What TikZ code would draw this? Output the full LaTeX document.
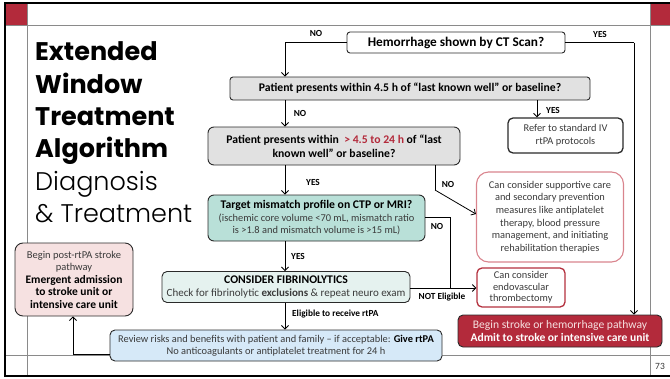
\documentclass[tikz,border=0pt]{standalone}
\usepackage{fontspec}
\setmainfont{Carlito}
\newfontfamily\titlefont{Poppins}
\newfontfamily\titlelightfont{Poppins Light}
\usetikzlibrary{arrows.meta,calc}

\definecolor{accentred}{HTML}{B32A3B}
\definecolor{framegray}{HTML}{8A8A8A}
\definecolor{qgray}{HTML}{E1E1E1}
\definecolor{tealfill}{HTML}{B9E0D8}
\definecolor{lighttealfill}{HTML}{E5F2EF}
\definecolor{bluefill}{HTML}{D6E9F8}
\definecolor{pinkfill}{HTML}{F6E1E1}
\definecolor{pinkborder}{HTML}{D9848D}
\definecolor{darkred}{HTML}{B3303D}
\definecolor{bodytext}{HTML}{3A3A3A}
\definecolor{edgegray}{HTML}{2A2A2A}

\newcommand{\bodyline}[1]{{\mdseries\color{bodytext}#1}}
\newcommand{\strongline}[1]{{\bfseries\color{black}#1}}

\tikzset{
  flowbox/.style={draw=edgegray, line width=0.9pt, rounded corners=4pt, align=center,
    inner sep=0pt, font=\fontsize{11.7}{13.5}\selectfont\bfseries, text=black},
  question/.style={flowbox, fill=qgray},
  notebox/.style={flowbox, font=\fontsize{10.4}{12.6}\selectfont, text=bodytext},
  arr/.style={line width=0.8pt, -{Straight Barb[length=3.5pt,width=7pt]}},
  conn/.style={line width=0.8pt},
  lbl/.style={font=\fontsize{9.3}{10}\selectfont\bfseries, text=black, inner sep=0pt},
  titlebold/.style={font=\titlefont\fontsize{25.5}{25}\selectfont\bfseries, anchor=base west, inner sep=0pt},
  titlelight/.style={font=\titlelightfont\fontsize{25.5}{25}\selectfont, anchor=base west, inner sep=0pt},
}

\begin{document}
\begin{tikzpicture}[x=1pt,y=-1pt]
\useasboundingbox (0,0) rectangle (670,378);

% slide frame
\fill[accentred] (5,3) rectangle (27,25);
\fill[accentred] (650,3) rectangle (670,25);
\draw[framegray, line width=0.7pt] (5,25) -- (670,25);
\draw[framegray, line width=0.7pt] (5,355) -- (670,355);
\draw[framegray, line width=0.7pt] (27,3) -- (27,376);
\draw[framegray, line width=0.7pt] (650,3) -- (650,376);
\draw[line width=2pt] (671,3) -- (5,3) -- (5,376) -- (671,376);
\node[font=\fontsize{9.5}{10}\selectfont, text=bodytext, inner sep=0pt] (pg) at (660,366) {73};

% title
\node[titlebold] (t1) at (35,60) {Extended};
\node[titlebold] (t2) at (35,93) {Window};
\node[titlebold] (t3) at (35,125) {Treatment};
\node[titlebold] (t4) at (35,157) {Algorithm};
\node[titlelight] (t5) at (35,190) {Diagnosis};
\node[titlelight] (t6) at (35,222) {\& Treatment};

% decision and action boxes
\node[flowbox, font=\fontsize{13.3}{15}\selectfont\bfseries, rounded corners=3pt,
      minimum width=218pt, minimum height=21pt] (hem) at (456,42.5) {Hemorrhage shown by CT Scan?};
\node[question, rounded corners=3pt, minimum width=360pt, minimum height=23pt] (p45) at (410,88.5)
  {Patient presents within 4.5 h of “last known well” or baseline?};
\node[notebox, line width=1.3pt, rounded corners=5pt, minimum width=115pt, minimum height=35pt] (refer) at (565.5,135.5)
  {Refer to standard IV\\rtPA protocols};
\node[question, rounded corners=6pt, minimum width=252pt, minimum height=38pt] (p24) at (334,146)
  {Patient presents within \ \textcolor{accentred}{> 4.5 to 24 h} of “last\\known well” or baseline?};
\node[flowbox, fill=tealfill, rounded corners=6pt, minimum width=217pt, minimum height=46pt,
      font=\fontsize{10.4}{12.4}\selectfont] (target) at (316.5,218)
  {\strongline{\fontsize{11.7}{12.4}\selectfont Target mismatch profile on CTP or MRI?}\\
   \bodyline{(ischemic core volume <70 mL, mismatch ratio}\\
   \bodyline{is >1.8 and mismatch volume is >15 mL)}};
\node[notebox, draw=pinkborder, line width=1.1pt, rounded corners=12pt, minimum width=147pt, minimum height=90pt] (support) at (550,217)
  {Can consider supportive care\\and secondary prevention\\measures like antiplatelet\\therapy, blood pressure\\management, and initiating\\rehabilitation therapies};
\node[notebox, draw=darkred, line width=1.3pt, rounded corners=5pt, minimum width=88pt, minimum height=39pt,
      font=\fontsize{10.4}{11.5}\selectfont] (endo) at (521,287.5)
  {Can consider\\endovascular\\thrombectomy};
\node[flowbox, fill=lighttealfill, rounded corners=5pt, minimum width=248pt, minimum height=31pt,
      font=\fontsize{11}{13}\selectfont] (fibr) at (286,287)
  {\strongline{\fontsize{11.7}{13}\selectfont CONSIDER FIBRINOLYTICS}\\
   \bodyline{Check for fibrinolytic \textbf{exclusions} \& repeat neuro exam}};
\node[flowbox, fill=bluefill, rounded corners=5pt, minimum width=332pt, minimum height=31pt,
      font=\fontsize{10.4}{12.5}\selectfont] (blue) at (276,345.5)
  {\bodyline{Review risks and benefits with patient and family – if acceptable: \textbf{\color{black}Give rtPA}}\\
   \bodyline{No anticoagulants or antiplatelet treatment for 24 h}};
\node[flowbox, fill=pinkfill, rounded corners=8pt, minimum width=118pt, minimum height=73pt,
      font=\fontsize{10.5}{12.5}\selectfont] (pink) at (74,279.5)
  {\bodyline{Begin post-rtPA stroke}\\\bodyline{pathway}\\
   \strongline{\fontsize{11.5}{12.5}\selectfont Emergent admission}\\
   \strongline{\fontsize{11.5}{12.5}\selectfont to stroke unit or}\\
   \strongline{\fontsize{11.5}{12.5}\selectfont intensive care unit}};
\node[flowbox, draw=edgegray, fill=accentred, rounded corners=5pt, minimum width=204pt, minimum height=32pt,
      font=\fontsize{11.6}{13.5}\selectfont] (redbox) at (560,331)
  {{\mdseries\color{pinkfill}Begin stroke or hemorrhage pathway}\\
   {\bfseries\color{white}Admit to stroke or intensive care unit}};

% connector corners
\coordinate (hemL) at (285,42.5);
\coordinate (hemR) at (634,42.5);
\coordinate (referX) at (537,0);
\coordinate (p24N) at (435,190);
\coordinate (targE) at (450,217);
\coordinate (junc) at (450,288);
\coordinate (blueL) at (73,354);

% connectors
\draw[conn] (hem.west) -- (hemL);
\draw[arr] (hemL) -- (hemL |- p45.north);
\draw[conn] (hem.east) -- (hemR);
\draw[arr] (hemR) -- (hemR |- redbox.north);
\draw[arr] (p45.south -| hemL) -- (p24.north -| hemL);
\draw[arr] (p45.south -| referX) -- (refer.north -| referX);
\draw[arr] (p24.south -| hemL) -- (target.north -| hemL);
\draw[conn] (p24.south -| p24N) -- (p24N);
\draw[arr] (p24N) -- ($(support.west)+(0,-3)$);
\draw[conn] (target.east |- targE) -- (targE) -- (junc);
\draw[arr] (fibr.east |- junc) -- (endo.west |- junc);
\draw[arr] (target.south -| hemL) -- (fibr.north -| hemL);
\draw[arr] (fibr.south -| hemL) -- (blue.north -| hemL);
\draw[conn] (blue.west |- blueL) -- (blueL);
\draw[arr] (blueL) -- (pink.south -| blueL);

% connector labels
\node[lbl] (lno1) at (316,33) {NO};
\node[lbl] (lyes1) at (600,34) {YES};
\node[lbl] (lno2) at (300,113) {NO};
\node[lbl] (lyes2) at (553,110) {YES};
\node[lbl] (lyes3) at (313,182) {YES};
\node[lbl] (lno3) at (448,184) {NO};
\node[lbl] (lno4) at (437,226) {NO};
\node[lbl] (lyes4) at (298,256) {YES};
\node[lbl] (lnot) at (442,297) {NOT Eligible};
\node[lbl, anchor=west] (lelig) at (292,314) {Eligible to receive rtPA};
\end{tikzpicture}
\end{document}
